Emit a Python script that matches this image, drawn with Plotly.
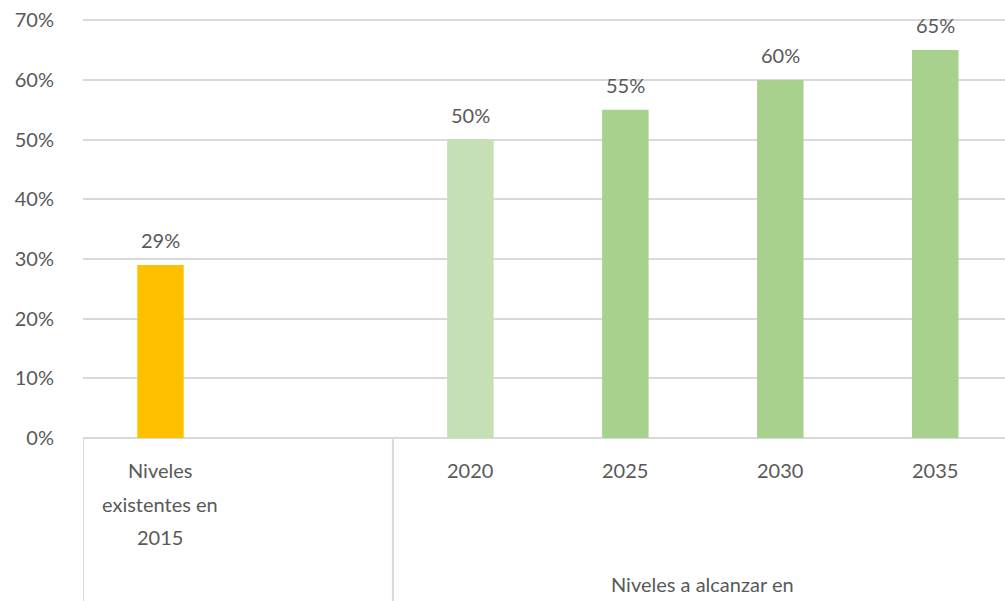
import plotly.graph_objects as go

# Data
categories = ["Niveles existentes en 2015", "", "2020", "2025", "2030", "2035"]
first_label_lines = ["Niveles", "existentes en", "2015"]
values = [29, None, 50, 55, 60, 65]
colors = ["#FFC000", "#FFFFFF", "#C5E0B4", "#A9D18E", "#A9D18E", "#A9D18E"]
group_label = "Niveles a alcanzar en"
y_ticks = [0, 10, 20, 30, 40, 50, 60, 70]

TEXT = "#595959"
GRID = "#D9D9D9"
FONT = "Lato"
FS = 20

xpos = list(range(len(categories)))

fig = go.Figure()
fig.add_trace(go.Bar(
    x=xpos, y=[v if v is not None else 0 for v in values],
    width=0.3, marker=dict(color=colors, line=dict(width=0)),
    hoverinfo="skip", showlegend=False,
))

annotations = []
for x, v in zip(xpos, values):
    if v is None:
        continue
    annotations.append(dict(x=x, y=v, xref="x", yref="y", text=f"{v}%",
                            showarrow=False, yshift=25, yanchor="middle",
                            font=dict(family=FONT, size=FS, color=TEXT)))

# category labels
ppx = 418.0  # plot height in px
for x, c in zip(xpos, categories):
    if x == 0:
        for i, line in enumerate(first_label_lines):
            annotations.append(dict(x=x, y=0, xref="x", yref="paper", text=line,
                                    showarrow=False, yanchor="middle",
                                    yshift=-(32 + 33.5 * i),
                                    font=dict(family=FONT, size=FS, color=TEXT)))
    elif c:
        annotations.append(dict(x=x, y=0, xref="x", yref="paper", text=c,
                                showarrow=False, yanchor="middle", yshift=-32,
                                font=dict(family=FONT, size=FS, color=TEXT)))

annotations.append(dict(x=(1.5 + 5.5) / 2, y=0, xref="x", yref="paper", text=group_label,
                        showarrow=False, yanchor="middle", yshift=-146,
                        font=dict(family=FONT, size=FS, color=TEXT)))

shapes = []
for sx in [-0.5, 1.5]:
    shapes.append(dict(type="line", xref="x", yref="paper", x0=sx, x1=sx,
                       y0=0, y1=-163 / ppx - 0.01, line=dict(color=GRID, width=2)))

fig.update_layout(
    width=1005, height=601,
    margin=dict(l=83, r=0, t=19, b=163, autoexpand=False),
    plot_bgcolor="white", paper_bgcolor="white",
    bargap=0.7,
    annotations=annotations,
    shapes=shapes,
    font=dict(family=FONT, size=FS, color=TEXT),
    xaxis=dict(range=[-0.5, 5.45], tickvals=xpos, ticktext=[""] * len(xpos),
               showgrid=False, zeroline=False, showline=False, ticks="",
               automargin=False),
    yaxis=dict(range=[0, 70.2], tickvals=y_ticks, ticktext=[f"{t}%" for t in y_ticks],
               showgrid=True, gridcolor=GRID, gridwidth=2,
               zeroline=True, zerolinecolor=GRID, zerolinewidth=2,
               showline=False, ticks="outside", ticklen=24, tickcolor="rgba(0,0,0,0)",
               tickfont=dict(family=FONT, size=FS, color=TEXT), automargin=False),
)

fig.write_html("out.html", config={"displayModeBar": False},
               post_script="document.body.style.margin='0';document.body.style.overflow='hidden';")
